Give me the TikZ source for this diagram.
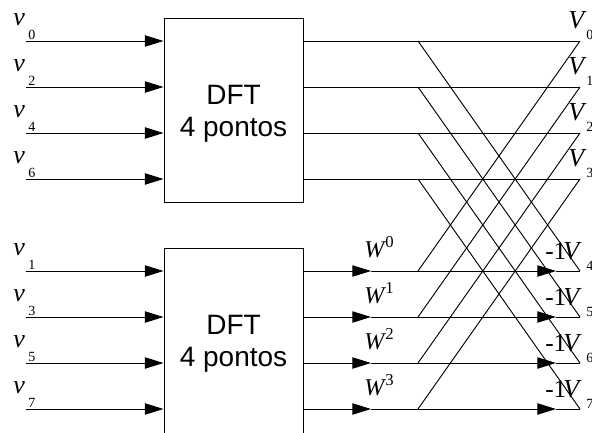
\documentclass[tikz,border=0pt]{standalone}
\usepackage{fontspec}
\setmainfont{Liberation Serif}
\newfontfamily\boxfont{Liberation Sans}
\usetikzlibrary{arrows.meta}
\begin{document}
\begin{tikzpicture}[x=0.75pt,y=-0.75pt,
  sig/.style={line width=0.7pt},
  arr/.style={sig,-{Triangle[length=14pt,width=8.5pt]}},
  dftbox/.style={draw,line width=0.7pt,minimum width=104.25pt,inner sep=0pt},
  boxtxt/.style={font=\boxfont\fontsize{21}{24}\selectfont,align=center,inner sep=0pt,anchor=north},
  lbl/.style={inner sep=0pt,anchor=base west,font=\fontsize{19.5}{19.5}\selectfont\itshape},
  idx/.style={inner sep=0pt,anchor=base west,font=\fontsize{10.5}{10.5}\selectfont},
  pow/.style={inner sep=0pt,anchor=base west,font=\fontsize{12.5}{12.5}\selectfont},
  neg/.style={inner sep=0pt,anchor=base west,font=\fontsize{19}{19}\selectfont}]
\clip (0,0) rectangle (592,432);

% the two 4-point DFT blocks
\node[dftbox,minimum height=138pt] (A) at (233.5,110) {};
\node[dftbox,minimum height=139.5pt] (B) at (233.5,341) {};
\node[boxtxt] (At) at (233.5,85) {DFT\\4 pontos};
\node[boxtxt] (Bt) at (233.5,315) {DFT\\4 pontos};

% even-indexed samples and outputs V0..V3
\foreach \i/\y/\k in {0/41/0,1/87/2,2/133/4,3/179/6} {
  \coordinate (ia\i) at (26,\y);
  \coordinate (ta\i) at (418,\y);
  \coordinate (oa\i) at (580,\y);
  \node[lbl] (va\i) at (13,\y-15.5) {v};
  \node[idx] (sa\i) at (28,\y-2) {\k};
  \node[lbl] (Va\i) at (568,\y-13) {V};
  \node[idx] (Sa\i) at (586,\y-2) {\i};
}

% odd-indexed samples, twiddle factors and outputs V4..V7
\foreach \i/\y/\k in {0/271/1,1/317/3,2/363/5,3/409/7} {
  \coordinate (ib\i) at (26,\y);
  \coordinate (wb\i) at (371,\y);
  \coordinate (tb\i) at (418,\y);
  \coordinate (mb\i) at (556,\y);
  \coordinate (ob\i) at (580,\y);
  \node[lbl] (vb\i) at (13,\y-15.5) {v};
  \node[idx] (sb\i) at (28,\y-2) {\k};
  \node[lbl,font=\fontsize{18}{18}\selectfont\itshape] (W\i) at (364,\y-14) {W};
  \node[pow] (P\i) at (385,\y-24) {\i};
  \node[neg] (N\i) at (545,\y-12) {-1};
  \node[lbl] (Vb\i) at (563,\y-12) {V};
  \pgfmathtruncatemacro\j{\i+4}
  \node[idx] (Sb\i) at (586,\y-1) {\j};
}

% signal paths and butterflies
\foreach \i in {0,...,3} {
  \draw[arr] (ia\i) -- (ia\i -| A.west);
  \draw[sig] (ia\i -| A.east) -- (oa\i);
  \draw[arr] (ib\i) -- (ib\i -| B.west);
  \draw[arr] (ib\i -| B.east) -- (wb\i);
  \draw[arr] (wb\i) -- (mb\i);
  \draw[sig] (mb\i) -- (ob\i);
  \draw[sig] (ta\i) -- (ob\i);
  \draw[sig] (tb\i) -- (oa\i);
}
\end{tikzpicture}
\end{document}
